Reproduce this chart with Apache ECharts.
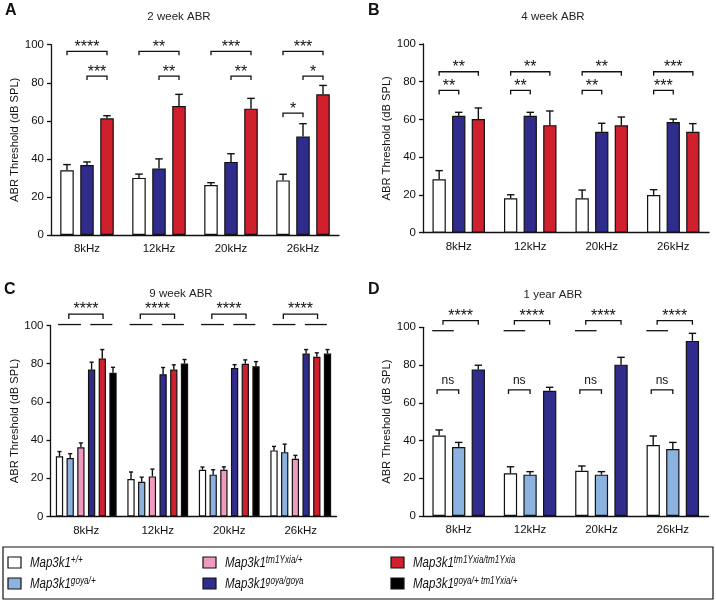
<!DOCTYPE html>
<html>
<head>
<meta charset="utf-8">
<script src="https://cdn.jsdelivr.net/npm/echarts@6/dist/echarts.min.js"></script>
<style>
  html, body { margin: 0; padding: 0; background: #fff; }
  #chart { width: 716px; height: 601px; }
</style>
</head>
<body>
<div id="chart"></div>
<script>
// categories
const freqs = ['8kHz', '12kHz', '20kHz', '26kHz'];

// A: 2 week ABR  (+/+, goya/goya, tm1Yxia/tm1Yxia)
const wk2Wt = [34, 30, 26.3, 28.7];
const wk2WtErr = [3, 2, 1.2, 3.2];
const wk2Goya = [36.8, 35, 38.4, 51.8];
const wk2GoyaErr = [1.6, 5, 4.3, 6.7];
const wk2Tm1 = [61.3, 67.8, 66.4, 73.9];
const wk2Tm1Err = [1.4, 6.1, 5.4, 4.7];

// B: 4 week ABR
const wk4Wt = [28.3, 18.2, 18.2, 20];
const wk4WtErr = [4.6, 1.9, 4.4, 2.8];
const wk4Goya = [62, 62, 53.5, 58.7];
const wk4GoyaErr = [1.8, 1.8, 4.5, 1.5];
const wk4Tm1 = [60.2, 57, 56.9, 53.5];
const wk4Tm1Err = [5.9, 7.5, 4.4, 4.3];

// C: 9 week ABR (+/+, goya/+, tm1Yxia/+, goya/goya, tm1Yxia/tm1Yxia, goya/+ tm1Yxia/+)
const wk9Wt = [31.5, 19.6, 24.5, 34.6];
const wk9WtErr = [2.5, 3.7, 1.4, 2.1];
const wk9GoyaHet = [30.6, 18.2, 21.9, 33.7];
const wk9GoyaHetErr = [2.3, 2.4, 2.6, 4.2];
const wk9Tm1Het = [36.2, 21, 24.5, 30.2];
const wk9Tm1HetErr = [2.3, 3.8, 1.5, 1.8];
const wk9Goya = [76.9, 74.5, 77.8, 85.3];
const wk9GoyaErr = [3.9, 3.5, 1.7, 2.1];
const wk9Tm1 = [82.7, 76.9, 80, 83.6];
const wk9Tm1Err = [4.7, 2.5, 2, 2.1];
const wk9Double = [75.2, 80.1, 78.7, 85.3];
const wk9DoubleErr = [2.9, 2.1, 2.4, 2.1];

// D: 1 year ABR (+/+, goya/+, goya/goya)
const yr1Wt = [42.6, 22.6, 24, 37.6];
const yr1WtErr = [3, 3.5, 2.5, 4.8];
const yr1GoyaHet = [36.6, 21.9, 21.9, 35.5];
const yr1GoyaHetErr = [2.4, 1.6, 1.6, 3.5];
const yr1Goya = [77.7, 66.4, 80.2, 92.8];
const yr1GoyaErr = [2.2, 1.8, 3.9, 4];

// significance marks: [category, fromBar, toBar, y, label, drop(px)]
const wk2Sig = [
  [0, 0, 2, 96.5, '****', 4], [0, 1, 2, 83.5, '***', 4],
  [1, 0, 2, 96.5, '**', 4], [1, 1, 2, 83.5, '**', 4],
  [2, 0, 2, 96.5, '***', 4], [2, 1, 2, 83.5, '**', 4],
  [3, 0, 2, 96.5, '***', 4], [3, 1, 2, 83.5, '*', 4], [3, 0, 1, 64, '*', 4]
];
const wk4Sig = [
  [0, 0, 2, 85.3, '**', 4], [0, 0, 1, 75.4, '**', 4],
  [1, 0, 2, 85.3, '**', 4], [1, 0, 1, 75.4, '**', 4],
  [2, 0, 2, 85.3, '**', 4], [2, 0, 1, 75.4, '**', 4],
  [3, 0, 2, 85.3, '***', 4], [3, 0, 1, 75.4, '***', 4]
];
const wk9Sig = [];
const yr1Sig = [];
for (let c = 0; c < 4; c++) {
  wk9Sig.push([c, -0.13, 2, 100.5, '', 0], [c, 2.88, 4.94, 100.5, '', 0], [c, 0.87, 4.07, 106, '****', 5]);
  yr1Sig.push([c, -0.35, 0.75, 98.2, '', 0], [c, 0.2, 2, 103.5, '****', 4], [c, -0.1, 1, 66.8, 'ns', 4]);
}

const legendNames = [
  ['+/+', 'goya/+'],
  ['tm1Yxia/+', 'goya/goya'],
  ['tm1Yxia/tm1Yxia', 'goya/+ tm1Yxia/+']
];

const COL = {
  wt: '#ffffff', goyaHet: '#8cb3df', tm1Het: '#f09ac0',
  goya: '#2f2c8c', tm1: '#d1202d', dbl: '#000000'
};
const legendColors = [[COL.wt, COL.goyaHet], [COL.tm1Het, COL.goya], [COL.tm1, COL.dbl]];

const FONT = '"Liberation Sans", Arial, sans-serif';

const chart = echarts.init(document.getElementById('chart'));

const panels = [
  { grid: { left: 51, top: 44.7, width: 288, height: 190.3 }, bw: 13.5, gap: 6.5,
    bars: [[wk2Wt, wk2WtErr, COL.wt], [wk2Goya, wk2GoyaErr, COL.goya], [wk2Tm1, wk2Tm1Err, COL.tm1]], sig: wk2Sig },
  { grid: { left: 423, top: 44, width: 286, height: 188.7 }, bw: 13.3, gap: 6.3,
    bars: [[wk4Wt, wk4WtErr, COL.wt], [wk4Goya, wk4GoyaErr, COL.goya], [wk4Tm1, wk4Tm1Err, COL.tm1]], sig: wk4Sig },
  { grid: { left: 50.5, top: 325.5, width: 286, height: 191 }, bw: 7.3, gap: 3.4,
    bars: [[wk9Wt, wk9WtErr, COL.wt], [wk9GoyaHet, wk9GoyaHetErr, COL.goyaHet], [wk9Tm1Het, wk9Tm1HetErr, COL.tm1Het],
           [wk9Goya, wk9GoyaErr, COL.goya], [wk9Tm1, wk9Tm1Err, COL.tm1], [wk9Double, wk9DoubleErr, COL.dbl]], sig: wk9Sig },
  { grid: { left: 423, top: 327.3, width: 285.5, height: 188.7 }, bw: 13.3, gap: 6.3,
    bars: [[yr1Wt, yr1WtErr, COL.wt], [yr1GoyaHet, yr1GoyaHetErr, COL.goyaHet], [yr1Goya, yr1GoyaErr, COL.goya]], sig: yr1Sig }
];

const grids = [], xAxes = [], yAxes = [], series = [];

panels.forEach(function (p, k) {
  grids.push(p.grid);
  xAxes.push({
    type: 'category', gridIndex: k, data: freqs,
    axisLine: { lineStyle: { color: '#111', width: 1.3 } },
    axisTick: { alignWithLabel: true, length: 4, lineStyle: { color: '#111', width: 1.3 } },
    axisLabel: { fontSize: 11.5, color: '#111', fontFamily: FONT, margin: 8 }
  });
  yAxes.push({
    type: 'value', gridIndex: k, min: 0, max: 100, interval: 20,
    name: 'ABR Threshold (dB SPL)', nameLocation: 'middle', nameGap: 30,
    nameTextStyle: { fontSize: 11.2, color: '#111', fontFamily: FONT },
    splitLine: { show: false },
    axisLine: { show: true, lineStyle: { color: '#111', width: 1.3 } },
    axisTick: { show: true, length: 4, lineStyle: { color: '#111', width: 1.3 } },
    axisLabel: { fontSize: 11.5, color: '#111', fontFamily: FONT, margin: 7 }
  });

  const n = p.bars.length;
  const step = p.bw + p.gap;
  const errData = [];
  p.bars.forEach(function (b, i) {
    series.push({
      type: 'bar', xAxisIndex: k, yAxisIndex: k,
      data: b[0], barWidth: p.bw, barGap: (p.gap / p.bw * 100) + '%',
      itemStyle: { color: b[2], borderColor: '#111', borderWidth: 1.2 },
      silent: true
    });
    b[0].forEach(function (v, c) { errData.push([freqs[c], i, v, b[1][c]]); });
  });

  // error bars (upper only)
  series.push({
    type: 'custom', xAxisIndex: k, yAxisIndex: k, z: 3, silent: true,
    encode: { x: 0, y: 2 },
    data: errData,
    renderItem: function (params, api) {
      const i = api.value(1), v = api.value(2), e = api.value(3);
      const base = api.coord([api.value(0), v]);
      const top = api.coord([api.value(0), v + e]);
      const x = base[0] + (i - (n - 1) / 2) * step;
      const cw = p.bw * 0.28;
      const st = { stroke: '#111', lineWidth: 1.4 };
      return { type: 'group', children: [
        { type: 'line', shape: { x1: x, y1: base[1], x2: x, y2: top[1] }, style: st },
        { type: 'line', shape: { x1: x - cw, y1: top[1], x2: x + cw, y2: top[1] }, style: st }
      ] };
    }
  });

  // significance brackets
  series.push({
    type: 'custom', xAxisIndex: k, yAxisIndex: k, z: 3, silent: true, clip: false,
    data: p.sig.map(function (s) { return [freqs[s[0]], s[3]]; }),
    renderItem: function (params, api) {
      const s = p.sig[params.dataIndex];
      const c = api.coord([api.value(0), s[3]]);
      const x1 = c[0] + (s[1] - (n - 1) / 2) * step;
      const x2 = c[0] + (s[2] - (n - 1) / 2) * step;
      const y = c[1], d = s[5];
      const pts = d ? [[x1, y + d], [x1, y], [x2, y], [x2, y + d]] : [[x1, y], [x2, y]];
      const children = [{ type: 'polyline', shape: { points: pts }, style: { stroke: '#111', lineWidth: 1.3, fill: null } }];
      if (s[4]) {
        const isNs = s[4] === 'ns';
        children.push({ type: 'text', style: {
          text: s[4], x: (x1 + x2) / 2, y: isNs ? y - 3 : y + 4,
          align: 'center', verticalAlign: 'bottom',
          fontSize: isNs ? 12 : 16, fontFamily: FONT, fill: '#111'
        } });
      }
      return { type: 'group', children: children };
    }
  });
});

// legend box built from names / colours
const legendChildren = [{
  type: 'rect', shape: { x: 3, y: 547, width: 710, height: 52 },
  style: { fill: '#fff', stroke: '#111', lineWidth: 1.2 }
}];
const colX = [8, 203, 391];
const rowY = [557, 578];
legendNames.forEach(function (col, ci) {
  col.forEach(function (sup, ri) {
    legendChildren.push({
      type: 'rect', shape: { x: colX[ci], y: rowY[ri], width: 13, height: 11 },
      style: { fill: legendColors[ci][ri], stroke: '#111', lineWidth: 1.2 }
    });
    legendChildren.push({
      type: 'text', x: colX[ci] + 22, y: rowY[ri] + 6, scaleX: 0.82,
      style: {
        text: '{m|Map3k1}{s|' + sup + '}', verticalAlign: 'middle',
        rich: {
          m: { fontSize: 14, fontStyle: 'italic', fontFamily: FONT, fill: '#111', lineHeight: 16 },
          s: { fontSize: 10, fontStyle: 'italic', fontFamily: FONT, fill: '#111', lineHeight: 8, verticalAlign: 'top' }
        }
      }
    });
  });
});

const titleStyle = { fontSize: 11.5, fontWeight: 'normal', color: '#222', fontFamily: FONT };
const letterStyle = { fontSize: 16, fontWeight: 'bold', color: '#111', fontFamily: FONT };

chart.setOption({
  backgroundColor: '#fff',
  animation: false,
  title: [
    { text: 'A', left: 5, top: 3, textStyle: letterStyle, padding: 0 },
    { text: 'B', left: 368, top: 3, textStyle: letterStyle, padding: 0 },
    { text: 'C', left: 4, top: 282, textStyle: letterStyle, padding: 0 },
    { text: 'D', left: 368, top: 282, textStyle: letterStyle, padding: 0 },
    { text: '2 week ABR', left: 179, top: 11, textAlign: 'center', textStyle: titleStyle, padding: 0 },
    { text: '4 week ABR', left: 553, top: 11, textAlign: 'center', textStyle: titleStyle, padding: 0 },
    { text: '9 week ABR', left: 181, top: 288, textAlign: 'center', textStyle: titleStyle, padding: 0 },
    { text: '1 year ABR', left: 553, top: 289, textAlign: 'center', textStyle: titleStyle, padding: 0 }
  ],
  grid: grids,
  xAxis: xAxes,
  yAxis: yAxes,
  series: series,
  graphic: [{ type: 'group', children: legendChildren }]
});
</script>
</body>
</html>
